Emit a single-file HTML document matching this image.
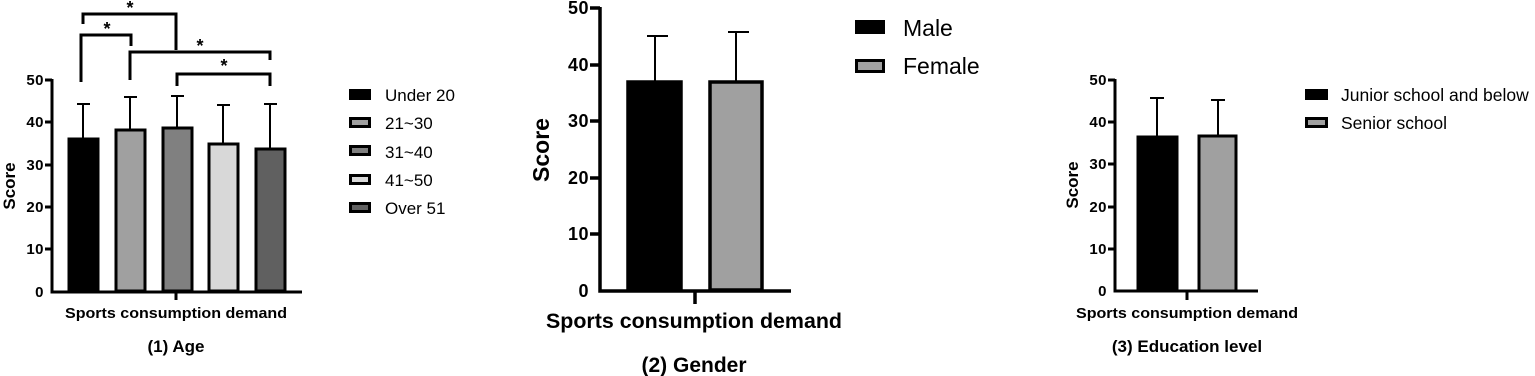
<!DOCTYPE html>
<html><head><meta charset="utf-8"><style>body{margin:0;background:#fff}svg{display:block}text{font-family:"Liberation Sans",Arial,sans-serif;font-weight:bold;fill:#000}</style></head>
<body>
<svg width="1535" height="376" viewBox="0 0 1535 376">
<g stroke="#000" fill="none">
<!-- Panel 1 -->
<g stroke-width="2">
<line x1="130" y1="129" x2="130" y2="97"/><line x1="124" y1="97" x2="137" y2="97"/>
<line x1="83" y1="138" x2="83" y2="104"/><line x1="77" y1="104" x2="90" y2="104"/>
<line x1="177" y1="127" x2="177" y2="96"/><line x1="171" y1="96" x2="184" y2="96"/>
<line x1="223" y1="143" x2="223" y2="105"/><line x1="217" y1="105" x2="230" y2="105"/>
<line x1="270" y1="148" x2="270" y2="104"/><line x1="264" y1="104" x2="277" y2="104"/>
</g>
<g stroke-width="3">
<rect x="69" y="139" width="29" height="152" fill="#000"/>
<rect x="116" y="130" width="29" height="161" fill="#a0a0a0"/>
<rect x="163" y="128" width="29" height="163" fill="#808080"/>
<rect x="209" y="144" width="29" height="147" fill="#d8d8d8"/>
<rect x="256" y="149" width="29" height="142" fill="#606060"/>
<polyline points="52,79 52,292 302,292"/>
<line x1="176" y1="292" x2="176" y2="300"/>
<line x1="45" y1="80" x2="52" y2="80"/><line x1="45" y1="122" x2="52" y2="122"/><line x1="45" y1="165" x2="52" y2="165"/><line x1="45" y1="207" x2="52" y2="207"/><line x1="45" y1="249" x2="52" y2="249"/>
<polyline points="83,24 83,14 176,14 176,50"/>
<polyline points="81,82 81,35 131,35 131,46"/>
<polyline points="130,80 130,52 270,52 270,60"/>
<polyline points="177,86 177,74 270,74 270,86"/>
</g>
<rect x="349" y="89" width="22" height="11" fill="#000" stroke="none"/>
<rect x="350.5" y="118.5" width="19" height="8" fill="#a0a0a0" stroke-width="3"/>
<rect x="350.5" y="146.5" width="19" height="8" fill="#808080" stroke-width="3"/>
<rect x="350.5" y="175.5" width="19" height="8" fill="#d8d8d8" stroke-width="3"/>
<rect x="350.5" y="203.5" width="19" height="8" fill="#606060" stroke-width="3"/>

<!-- Panel 2 -->
<g stroke-width="2">
<line x1="655" y1="82" x2="655" y2="36"/><line x1="647" y1="36" x2="668" y2="36"/>
<line x1="736" y1="82" x2="736" y2="32"/><line x1="728" y1="32" x2="749" y2="32"/>
</g>
<g stroke-width="3.5">
<rect x="628" y="82" width="53" height="208" fill="#000"/>
<rect x="710" y="82" width="52" height="208" fill="#a0a0a0"/>
<polyline points="600,7 600,291 791,291"/>
<line x1="695" y1="291" x2="695" y2="304"/>
<line x1="590" y1="8" x2="600" y2="8"/><line x1="590" y1="65" x2="600" y2="65"/><line x1="590" y1="121" x2="600" y2="121"/><line x1="590" y1="178" x2="600" y2="178"/><line x1="590" y1="234" x2="600" y2="234"/>
</g>
<rect x="855" y="20" width="30" height="14" fill="#000" stroke="none"/>
<rect x="856.5" y="60.5" width="27" height="11" fill="#a0a0a0" stroke-width="3"/>

<!-- Panel 3 -->
<g stroke-width="2">
<line x1="1157" y1="136" x2="1157" y2="98"/><line x1="1150" y1="98" x2="1164" y2="98"/>
<line x1="1218" y1="135" x2="1218" y2="100"/><line x1="1211" y1="100" x2="1225" y2="100"/>
</g>
<g stroke-width="3">
<rect x="1138" y="137" width="39" height="154" fill="#000"/>
<rect x="1199" y="136" width="37" height="155" fill="#a0a0a0"/>
<polyline points="1115,79 1115,291 1258,291"/>
<line x1="1187" y1="291" x2="1187" y2="300"/>
<line x1="1108" y1="80" x2="1115" y2="80"/><line x1="1108" y1="122" x2="1115" y2="122"/><line x1="1108" y1="164" x2="1115" y2="164"/><line x1="1108" y1="207" x2="1115" y2="207"/><line x1="1108" y1="249" x2="1115" y2="249"/>
</g>
<rect x="1305" y="89" width="23" height="11" fill="#000" stroke="none"/>
<rect x="1306.5" y="118.5" width="20" height="8" fill="#a0a0a0" stroke-width="3"/>
</g>

<!-- Panel 1 text -->
<g font-size="15" text-anchor="end" letter-spacing="0.5">
<text x="44" y="85">50</text><text x="44" y="127">40</text><text x="44" y="170">30</text><text x="44" y="212">20</text><text x="44" y="254">10</text><text x="44" y="297">0</text>
</g>
<text transform="translate(15,186) rotate(-90)" font-size="17" text-anchor="middle">Score</text>
<text x="176" y="318" font-size="15" text-anchor="middle" textLength="222" lengthAdjust="spacingAndGlyphs">Sports consumption demand</text>
<text x="176" y="352" font-size="17" text-anchor="middle">(1) Age</text>
<g font-size="18">
<text x="130" y="14" text-anchor="middle">*</text><text x="107" y="35" text-anchor="middle">*</text><text x="200" y="52" text-anchor="middle">*</text><text x="224" y="72" text-anchor="middle">*</text>
</g>
<g font-size="17">
<text x="385" y="101" style="font-weight:normal">Under 20</text>
<text x="385" y="129" style="font-weight:normal">21~30</text>
<text x="385" y="158" style="font-weight:normal">31~40</text>
<text x="385" y="186" style="font-weight:normal">41~50</text>
<text x="385" y="214" style="font-weight:normal">Over 51</text>
</g>

<!-- Panel 2 text -->
<g font-size="18" text-anchor="end" letter-spacing="0.5">
<text x="589" y="14">50</text><text x="589" y="71">40</text><text x="589" y="127">30</text><text x="589" y="184">20</text><text x="589" y="240">10</text><text x="589" y="297">0</text>
</g>
<text transform="translate(549,150) rotate(-90)" font-size="23" text-anchor="middle">Score</text>
<text x="694" y="328" font-size="21" text-anchor="middle" textLength="296" lengthAdjust="spacingAndGlyphs">Sports consumption demand</text>
<text x="694" y="372" font-size="21" text-anchor="middle">(2) Gender</text>
<text x="903" y="36" font-size="23" style="font-weight:normal">Male</text>
<text x="903" y="74" font-size="23" style="font-weight:normal">Female</text>

<!-- Panel 3 text -->
<g font-size="15" text-anchor="end" letter-spacing="0.5">
<text x="1107" y="85">50</text><text x="1107" y="127">40</text><text x="1107" y="169">30</text><text x="1107" y="212">20</text><text x="1107" y="254">10</text><text x="1107" y="296">0</text>
</g>
<text transform="translate(1078,185) rotate(-90)" font-size="17" text-anchor="middle">Score</text>
<text x="1187" y="318" font-size="15" text-anchor="middle" textLength="222" lengthAdjust="spacingAndGlyphs">Sports consumption demand</text>
<text x="1187" y="352" font-size="17" text-anchor="middle">(3) Education level</text>
<text x="1341" y="101" font-size="17.5" style="font-weight:normal">Junior school and below</text>
<text x="1341" y="129" font-size="17.5" style="font-weight:normal">Senior school</text>
</svg>
</body></html>
